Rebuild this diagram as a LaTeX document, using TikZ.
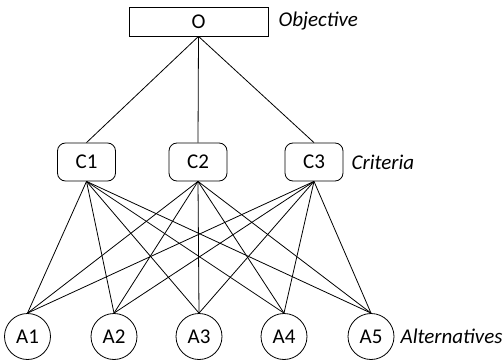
\documentclass[tikz,border=0pt]{standalone}
\usepackage{fontspec}
\setmainfont{Carlito}
\usepackage{tikz}
\usetikzlibrary{positioning}

\begin{document}
\begin{tikzpicture}[
    x=1pt, y=-1pt,
    every node/.style = {font=\fontsize{21}{24}\selectfont},
    goal/.style = {rectangle, draw=black, line width=0.8pt, minimum width=139pt, minimum height=29pt, text centered},
    crit/.style = {rectangle, draw=black, line width=0.8pt, minimum width=58pt, minimum height=38pt, text centered, rounded corners=8pt},
    alt/.style = {circle, draw=black, line width=0.8pt, minimum size=46pt, inner sep=0pt},
    level/.style = {font=\fontsize{21}{24}\selectfont\itshape, inner sep=0pt, anchor=west},
    line/.style = {draw=black, line width=0.8pt}
]
    \useasboundingbox (0,0) rectangle (504,361);

    % Top Row
    \node [goal] (obj) at (198.5, 21.5) {O};
    \node [level, right=10pt of obj] (objlbl) {Objective};

    % Middle Row
    \node [crit] (c1) at (86.5, 162) {C1};
    \node [crit] (c2) at (198, 162) {C2};
    \node [crit] (c3) at (314, 162) {C3};
    \node [level, right=8pt of c3] (critlbl) {Criteria};

    % Bottom Row
    \node [alt] (a1) at (27.5, 336.5) {A1};
    \node [alt] (a2) at (114, 336.5) {A2};
    \node [alt] (a3) at (199, 336.5) {A3};
    \node [alt] (a4) at (284, 336.5) {A4};
    \node [alt] (a5) at (371, 336.5) {A5};
    \node [level, right=6pt of a5] (altlbl) {Alternatives};

    % Lines - Objective to Criteria
    \foreach \c in {c1,c2,c3}
        \draw [line] (obj.south) -- (\c.north);

    % Lines - Criteria to Alternatives
    \foreach \c in {c1,c2,c3}
        \foreach \a in {a1,a2,a3,a4,a5}
            \draw [line] (\c.south) -- (\a.north);
\end{tikzpicture}
\end{document}
